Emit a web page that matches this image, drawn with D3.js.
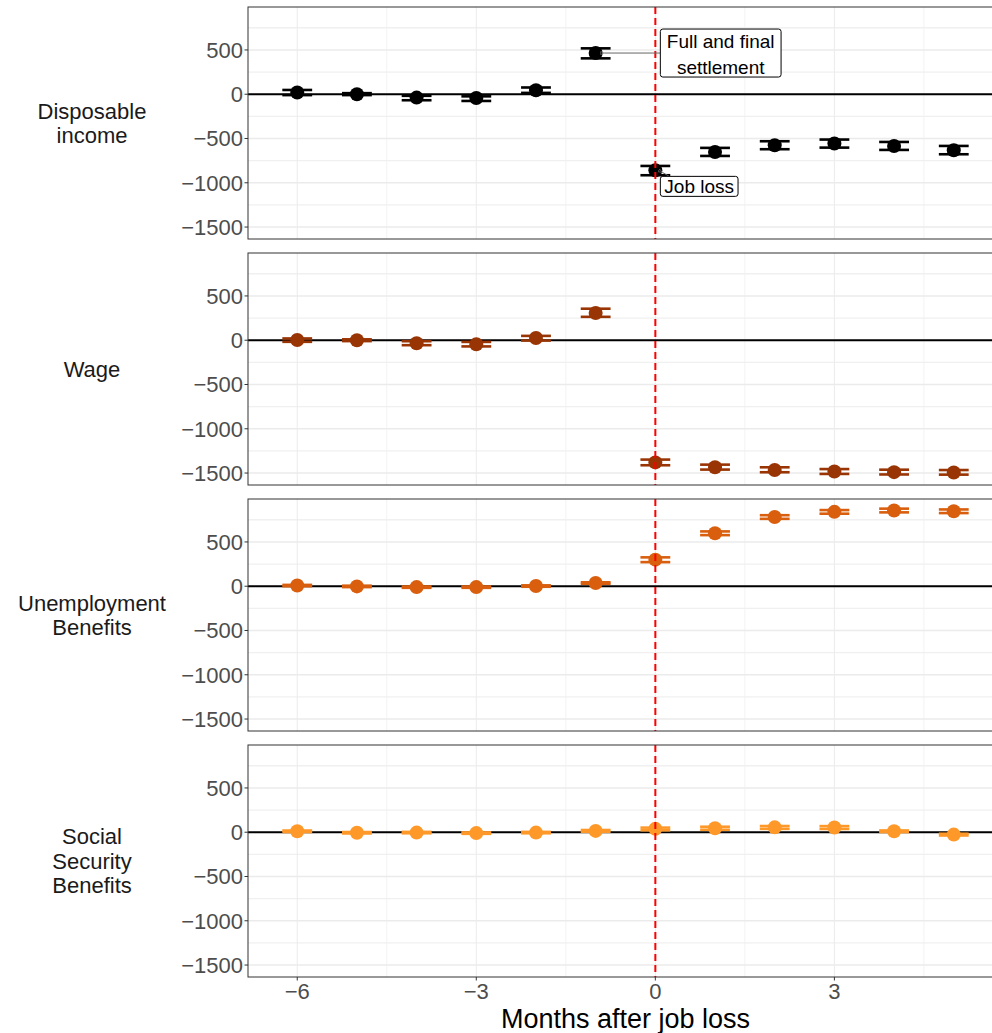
<!DOCTYPE html>
<html>
<head>
  <meta charset="utf-8">
  <script src="https://cdn.jsdelivr.net/npm/d3@7/dist/d3.min.js"></script>
  <style>
    body { margin: 0; background: #fff; }
    text { font-family: "Liberation Sans", Arial, sans-serif; }
  </style>
</head>
<body>
<div id="chart"></div>
<script>
  var width = 992, height = 1033;

  // months relative to job loss
  var months = [-6, -5, -4, -3, -2, -1, 0, 1, 2, 3, 4, 5];

  // panel names, one line per entry
  var panelNames = [["Disposable", "income"], ["Wage"], ["Unemployment", "Benefits"], ["Social", "Security", "Benefits"]];
  var panelColors = ["#000000", "#993404", "#d95f0e", "#fe9929"];

  // estimates and confidence bands
  var incomeEst = [20, 0, -38, -42, 45, 465, -860, -652, -576, -557, -584, -633];
  var incomeLo  = [-10, -10, -68, -76, 15, 405, -915, -697, -621, -603, -629, -678];
  var incomeHi  = [48, 12, -18, -24, 76, 518, -810, -606, -531, -512, -539, -584];

  var wageEst = [2, 0, -34, -45, 25, 308, -1380, -1435, -1465, -1483, -1490, -1493];
  var wageLo  = [-18, -10, -56, -70, -4, 264, -1412, -1461, -1491, -1510, -1516, -1518];
  var wageHi  = [20, 10, -11, -19, 49, 356, -1348, -1405, -1435, -1455, -1462, -1466];

  var ubEst = [8, -2, -10, -10, 2, 36, 300, 598, 782, 840, 855, 847];
  var ubLo  = [0, -10, -18, -18, -6, 28, 272, 577, 761, 819, 834, 826];
  var ubHi  = [15, 6, -3, -3, 10, 44, 326, 619, 802, 860, 876, 867];

  var ssEst = [11, -6, -4, -10, -4, 15, 38, 45, 55, 53, 11, -27];
  var ssLo  = [2, -14, -12, -18, -12, 5, 22, 28, 38, 37, 2, -37];
  var ssHi  = [19, 2, 4, -2, 4, 25, 52, 62, 70, 69, 20, -17];

  var panelEst = [incomeEst, wageEst, ubEst, ssEst];
  var panelLo = [incomeLo, wageLo, ubLo, ssLo];
  var panelHi = [incomeHi, wageHi, ubHi, ssHi];

  var yTicks = [500, 0, -500, -1000, -1500];
  var yTickLabels = ["500", "0", "\u2212500", "\u22121000", "\u22121500"];
  var yMinor = [750, 250, -250, -750, -1250];
  var xTicks = [-6, -3, 0, 3];
  var xTickLabels = ["\u22126", "\u22123", "0", "3"];
  var xMinor = [-4.5, -1.5, 1.5, 4.5];

  // annotations on the first panel
  var settleText = ["Full and final", "settlement"];
  var jobLossText = ["Job loss"];

  var left = 248, right = 1003;
  var panelTop0 = 7, panelH = 232, panelStep = 246;

  var x = d3.scaleLinear().domain([-6.825, 5.825]).range([left, right]);

  var svg = d3.select("#chart").append("svg")
    .attr("width", width).attr("height", height)
    .style("overflow", "hidden");

  panelNames.forEach(function(name, p) {
    var top = panelTop0 + p * panelStep;
    var y = d3.scaleLinear().domain([-1635, 985]).range([top + panelH, top]);
    var g = svg.append("g");
    var col = panelColors[p];

    // grid
    g.selectAll(".ymin").data(yMinor).enter().append("line")
      .attr("x1", left).attr("x2", right)
      .attr("y1", function(d) { return y(d); }).attr("y2", function(d) { return y(d); })
      .style("stroke", "#f0f0f0").style("stroke-width", 1.4);
    g.selectAll(".xmin").data(xMinor).enter().append("line")
      .attr("x1", function(d) { return x(d); }).attr("x2", function(d) { return x(d); })
      .attr("y1", top).attr("y2", top + panelH)
      .style("stroke", "#f0f0f0").style("stroke-width", 0.8);
    g.selectAll(".ymaj").data(yTicks).enter().append("line")
      .attr("x1", left).attr("x2", right)
      .attr("y1", function(d) { return y(d); }).attr("y2", function(d) { return y(d); })
      .style("stroke", "#ebebeb").style("stroke-width", 1.6);
    g.selectAll(".xmaj").data(xTicks).enter().append("line")
      .attr("x1", function(d) { return x(d); }).attr("x2", function(d) { return x(d); })
      .attr("y1", top).attr("y2", top + panelH)
      .style("stroke", "#ebebeb").style("stroke-width", 1);

    // zero line
    g.append("line")
      .attr("x1", left).attr("x2", right).attr("y1", y(0)).attr("y2", y(0))
      .style("stroke", "#000").style("stroke-width", 2);

    // error bars
    var est = panelEst[p], lo = panelLo[p], hi = panelHi[p];
    months.forEach(function(m, i) {
      g.append("line")
        .attr("x1", x(m)).attr("x2", x(m)).attr("y1", y(lo[i])).attr("y2", y(hi[i]))
        .style("stroke", col).style("stroke-width", 2.5);
      [lo[i], hi[i]].forEach(function(v) {
        g.append("line")
          .attr("x1", x(m - 0.25)).attr("x2", x(m + 0.25)).attr("y1", y(v)).attr("y2", y(v))
          .style("stroke", col).style("stroke-width", 2.6);
      });
    });

    // points
    g.selectAll("circle").data(months).enter().append("circle")
      .attr("cx", function(d) { return x(d); })
      .attr("cy", function(d, i) { return y(est[i]); })
      .attr("r", 7)
      .style("fill", col);

    // job loss line
    g.append("line")
      .attr("x1", x(0)).attr("x2", x(0)).attr("y1", top).attr("y2", top + panelH)
      .style("stroke", "#ff0000").style("stroke-width", 2)
      .style("stroke-dasharray", "7 4");

    // border
    g.append("rect")
      .attr("x", left).attr("y", top).attr("width", right - left).attr("height", panelH)
      .style("fill", "none").style("stroke", "#333").style("stroke-width", 1);

    // y axis ticks + labels
    g.selectAll(".yt").data(yTicks).enter().append("line")
      .attr("x1", left - 3.5).attr("x2", left)
      .attr("y1", function(d) { return y(d); }).attr("y2", function(d) { return y(d); })
      .style("stroke", "#333").style("stroke-width", 1);
    g.selectAll(".yl").data(yTicks).enter().append("text")
      .attr("x", left - 5).attr("y", function(d) { return y(d); })
      .attr("dy", "0.36em")
      .attr("text-anchor", "end")
      .style("font-size", "22px").style("fill", "#4d4d4d")
      .text(function(d, i) { return yTickLabels[i]; });

    // strip label on the left
    var mid = top + panelH / 2;
    name.forEach(function(line, j) {
      g.append("text")
        .attr("x", 92)
        .attr("y", mid + (j - (name.length - 1) / 2) * 24.5)
        .attr("dy", "0.36em")
        .attr("text-anchor", "middle")
        .style("font-size", "22px").style("fill", "#1a1a1a")
        .text(line);
    });

    if (p == 0) addLabels(g, y);
    if (p == panelNames.length - 1) addXAxis(top + panelH);
  });

  function addLabels(g, y) {
    svg.append("defs").append("marker")
      .attr("id", "arr").attr("viewBox", "0 0 10 10")
      .attr("refX", 1).attr("refY", 5)
      .attr("markerWidth", 5).attr("markerHeight", 5)
      .attr("orient", "auto-start-reverse")
      .append("path").attr("d", "M9,2 L1,5 L9,8 Z")
      .style("fill", "none").style("stroke", "#777").style("stroke-width", 1.3);

    // settlement label (month -1)
    var sx = x(-1), sy = y(incomeEst[5]);
    var bx = x(0) + 5;
    g.append("line")
      .attr("x1", sx + 9).attr("y1", sy).attr("x2", bx).attr("y2", sy)
      .style("stroke", "#666").style("stroke-width", 1)
      .attr("marker-start", "url(#arr)");
    var box = g.append("rect")
      .attr("x", bx).attr("y", sy - 24).attr("height", 48).attr("rx", 2.5)
      .style("fill", "#fff").style("stroke", "#000").style("stroke-width", 1);
    var maxW = 0;
    var tt = settleText.map(function(t, j) {
      var e = g.append("text")
        .attr("y", sy - 24 + 18.5 + j * 26.3)
        .attr("text-anchor", "middle")
        .style("font-size", "19px").style("fill", "#000")
        .text(t);
      maxW = Math.max(maxW, e.node().getComputedTextLength());
      return e;
    });
    var bw = maxW + 13;
    box.attr("width", bw);
    tt.forEach(function(e) { e.attr("x", bx + bw / 2); });

    // job loss label (month 0)
    var jx = x(0), jy = y(incomeEst[6]);
    g.append("line")
      .attr("x1", jx + 7).attr("y1", jy + 2).attr("x2", jx + 14).attr("y2", jy + 6)
      .style("stroke", "#666").style("stroke-width", 1)
      .attr("marker-start", "url(#arr)");
    var jbox = g.append("rect")
      .attr("x", bx).attr("y", jy + 6).attr("height", 20).attr("rx", 2.5)
      .style("fill", "#fff").style("stroke", "#000").style("stroke-width", 1);
    var jt = g.append("text")
      .attr("y", jy + 6 + 17)
      .attr("text-anchor", "middle")
      .style("font-size", "19px").style("fill", "#000")
      .text(jobLossText[0]);
    var jw = jt.node().getComputedTextLength() + 8;
    jbox.attr("width", jw);
    jt.attr("x", bx + jw / 2);
  }

  function addXAxis(bottom) {
    svg.selectAll(".xt").data(xTicks).enter().append("line")
      .attr("x1", function(d) { return x(d); }).attr("x2", function(d) { return x(d); })
      .attr("y1", bottom).attr("y2", bottom + 3.5)
      .style("stroke", "#333").style("stroke-width", 1);
    svg.selectAll(".xl").data(xTicks).enter().append("text")
      .attr("x", function(d) { return x(d); }).attr("y", bottom + 21.5)
      .attr("text-anchor", "middle")
      .style("font-size", "22px").style("fill", "#4d4d4d")
      .text(function(d, i) { return xTickLabels[i]; });
    svg.append("text")
      .attr("x", (left + right) / 2).attr("y", 1028)
      .attr("text-anchor", "middle")
      .style("font-size", "27px").style("fill", "#000")
      .text("Months after job loss");
  }
</script>
</body>
</html>
